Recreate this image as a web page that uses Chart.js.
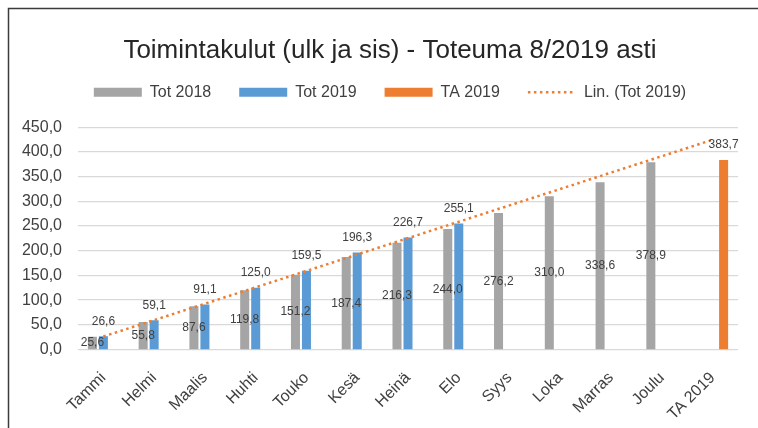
<!DOCTYPE html>
<html>
<head>
<meta charset="utf-8">
<script src="https://cdn.jsdelivr.net/npm/chart.js@4.4.1/dist/chart.umd.min.js"></script>
<style>
  html, body { margin: 0; padding: 0; background: #fff; }
</style>
</head>
<body>
<canvas id="kulut" width="758" height="428"></canvas>
<script>
const months = ["Tammi", "Helmi", "Maalis", "Huhti", "Touko", "Kesä", "Heinä", "Elo", "Syys", "Loka", "Marras", "Joulu", "TA 2019"];
const tot2018 = [25.6, 55.8, 87.6, 119.8, 151.2, 187.4, 216.3, 244.0, 276.2, 310.0, 338.6, 378.9, null];
const tot2019 = [26.6, 59.1, 91.1, 125.0, 159.5, 196.3, 226.7, 255.1, null, null, null, null, null];
const ta2019 = [null, null, null, null, null, null, null, null, null, null, null, null, 383.7];
// Excel linear trendline on Tot 2019, only its two ends
const trendTot2019 = [26.3, null, null, null, null, null, null, null, null, null, null, null, 424.5];

const FONT = '"Liberation Sans", Arial, sans-serif';
const fmt = v => v.toFixed(1).replace(".", ",");

// frame of the original Excel chart object (only left & top edges are visible)
const frame = {
  id: "frame",
  beforeDraw(chart) {
    const ctx = chart.ctx;
    ctx.save();
    ctx.strokeStyle = "#3b3b3b";
    ctx.lineWidth = 1.5;
    ctx.beginPath();
    ctx.moveTo(8.5, 428);
    ctx.lineTo(8.5, 8.5);
    ctx.lineTo(758, 8.5);
    ctx.stroke();
    ctx.restore();
  }
};

// data labels: 2018 in the middle of the bar, the others above
const valueLabels = {
  id: "valueLabels",
  afterDatasetsDraw(chart) {
    const ctx = chart.ctx;
    ctx.save();
    ctx.font = "12px " + FONT;
    ctx.fillStyle = "#404040";
    ctx.textAlign = "center";
    ctx.textBaseline = "middle";
    chart.data.datasets.forEach((ds, i) => {
      if (ds.type === "line") return;
      chart.getDatasetMeta(i).data.forEach((bar, j) => {
        const v = ds.data[j];
        if (v == null) return;
        const y = i === 0 ? (bar.y + bar.base) / 2 : bar.y - 15;
        ctx.fillText(fmt(v), bar.x, y);
      });
    });
    ctx.restore();
  }
};

new Chart(document.getElementById("kulut"), {
  type: "bar",
  data: {
    labels: months,
    datasets: [
      { label: "Tot 2018", data: tot2018, backgroundColor: "#a5a5a5" },
      { label: "Tot 2019", data: tot2019, backgroundColor: "#5b9bd5" },
      { label: "TA 2019", data: ta2019, backgroundColor: "#ed7d31" },
      {
        type: "line",
        label: "Lin. (Tot 2019)",
        data: trendTot2019,
        order: -1,
        spanGaps: true,
        borderColor: "#ed7d31",
        borderWidth: 2.5,
        borderDash: [2.5, 3.5],
        pointRadius: 0,
        fill: false
      }
    ]
  },
  options: {
    responsive: false,
    animation: false,
    devicePixelRatio: 1,
    datasets: {
      bar: { categoryPercentage: 0.65, barPercentage: 0.82 }
    },
    layout: { padding: { left: 22, right: 0, top: 0, bottom: 0 } },
    plugins: {
      title: {
        display: true,
        text: "Toimintakulut (ulk ja sis) - Toteuma 8/2019 asti",
        color: "#262626",
        font: { family: FONT, size: 26, weight: "normal" },
        padding: { top: 35, bottom: -10 }
      },
      legend: {
        position: "top",
        labels: {
          color: "#404040",
          font: { family: FONT, size: 16 },
          usePointStyle: true,
          pointStyleWidth: 48,
          boxHeight: 9,
          padding: 28,
          sort: (a, b) => a.datasetIndex - b.datasetIndex,
          generateLabels(chart) {
            const items = Chart.defaults.plugins.legend.labels.generateLabels(chart);
            items.forEach(it => {
              if (it.datasetIndex === 3) {
                it.pointStyle = "line";
                it.fillStyle = "transparent";
                it.strokeStyle = "#ed7d31";
                it.lineWidth = 2.5;
                it.lineDash = [2.5, 3.5];
              } else {
                it.pointStyle = "rect";
                it.lineWidth = 0;
              }
            });
            return items;
          }
        }
      },
      tooltip: { enabled: false }
    },
    scales: {
      x: {
        grid: { display: false },
        border: { display: false },
        ticks: {
          color: "#404040",
          font: { family: FONT, size: 16 },
          minRotation: 45,
          maxRotation: 45,
          padding: 11
        },
        afterFit(s) { s.height = 78.5; }
      },
      // empty axes only keep the gaps under the legend and right of the plot
      xTop: {
        type: "category",
        position: "top",
        grid: { display: false },
        border: { display: false },
        ticks: { display: false },
        afterFit(s) { s.height = 17; }
      },
      yRight: {
        type: "linear",
        position: "right",
        grid: { display: false },
        border: { display: false },
        ticks: { display: false },
        afterFit(s) { s.width = 20; }
      },
      y: {
        min: 0,
        max: 450,
        grid: { color: "#d9d9d9", lineWidth: 1.3, drawTicks: false },
        border: { display: false },
        ticks: {
          stepSize: 50,
          color: "#404040",
          font: { family: FONT, size: 16 },
          padding: 16,
          callback: v => fmt(v)
        },
        afterFit(s) { s.width = 56; }
      }
    }
  },
  plugins: [frame, valueLabels]
});
</script>
</body>
</html>
